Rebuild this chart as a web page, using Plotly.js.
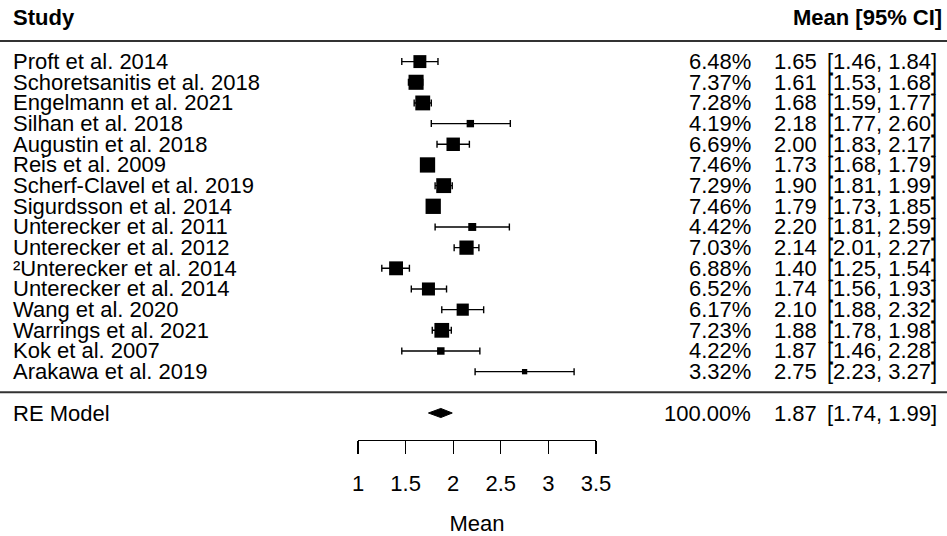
<!DOCTYPE html>
<html>
<head>
<meta charset="utf-8">
<script src="https://cdn.plot.ly/plotly-3.0.1.min.js"></script>
<style>html,body{margin:0;padding:0;background:#fff}#chart{width:947px;height:536px}</style>
</head>
<body>
<div id="chart"></div>
<script>
const studies = ["Proft et al. 2014","Schoretsanitis et al. 2018","Engelmann et al. 2021","Silhan et al. 2018","Augustin et al. 2018","Reis et al. 2009","Scherf-Clavel et al. 2019","Sigurdsson et al. 2014","Unterecker et al. 2011","Unterecker et al. 2012","\u00B2Unterecker et al. 2014","Unterecker et al. 2014","Wang et al. 2020","Warrings et al. 2021","Kok et al. 2007","Arakawa et al. 2019"];
const weights = [6.48,7.37,7.28,4.19,6.69,7.46,7.29,7.46,4.42,7.03,6.88,6.52,6.17,7.23,4.22,3.32];
const means   = [1.65,1.61,1.68,2.18,2.00,1.73,1.90,1.79,2.20,2.14,1.40,1.74,2.10,1.88,1.87,2.75];
const lower   = [1.46,1.53,1.59,1.77,1.83,1.68,1.81,1.73,1.81,2.01,1.25,1.56,1.88,1.78,1.46,2.23];
const upper   = [1.84,1.68,1.77,2.60,2.17,1.79,1.99,1.85,2.59,2.27,1.54,1.93,2.32,1.98,2.28,3.27];
const summaryLabel = "RE Model";
const summaryWeight = 100.00;
const summaryMean = 1.87;
const summaryLower = 1.74;
const summaryUpper = 1.99;
const tickVals = [1,1.5,2,2.5,3,3.5];
const tickText = ["1","1.5","2","2.5","3","3.5"];

const W = 947, H = 536;
const FONT = "Liberation Sans, Arial, sans-serif";
const FS = 22;
const k = studies.length;
const rows = studies.map((s,i)=>k - i);   // metafor style: top = k, bottom = 1
const px = v => v / W;

const wmin = Math.min(...weights), wmax = Math.max(...weights);
const sizes = weights.map(w => 5.3 + (w - wmin) / (wmax - wmin) * 10);

const traces = [
  {
    type: 'scatter', mode: 'markers', x: means, y: rows, cliponaxis: false,
    marker: {symbol: 'square', size: sizes, color: '#000', opacity: 1, line: {width: 0}},
    error_x: {type: 'data', symmetric: false,
      array: means.map((m,i)=>+(upper[i]-m).toFixed(4)),
      arrayminus: means.map((m,i)=>+(m-lower[i]).toFixed(4)),
      color: '#000', thickness: 1.4, width: 3.5},
    hoverinfo: 'skip'
  },
  {
    type: 'scatter', mode: 'lines', cliponaxis: false,
    x: [summaryLower, summaryMean, summaryUpper, summaryMean, summaryLower],
    y: [-1, -1 + 0.22, -1, -1 - 0.22, -1],
    fill: 'toself', fillcolor: '#000', line: {color: '#000', width: 1},
    hoverinfo: 'skip'
  }
];

const ann = [];
const txt = (text, xp, y, anchor, bold) => ann.push({
  text: bold ? '<b>' + text + '</b>' : text, xref: 'paper', yref: 'y', x: px(xp), y: y,
  xanchor: anchor, yanchor: 'middle', showarrow: false, borderpad: 0,
  font: {family: FONT, size: FS, color: '#000'}
});
txt('Study', 12, k + 2.15, 'left', true);
txt('Mean [95% CI]', 943, k + 2.15, 'right', true);
studies.forEach((s,i)=>{
  txt(s, 12, rows[i], 'left');
  txt(weights[i].toFixed(2) + '%', 752, rows[i], 'right');
  txt(means[i].toFixed(2), 818, rows[i], 'right');
  txt('[' + lower[i].toFixed(2) + ', ' + upper[i].toFixed(2) + ']', 938, rows[i], 'right');
});
txt(summaryLabel, 12, -1, 'left');
txt(summaryWeight.toFixed(2) + '%', 752, -1, 'right');
txt(summaryMean.toFixed(2), 818, -1, 'right');
txt('[' + summaryLower.toFixed(2) + ', ' + summaryUpper.toFixed(2) + ']', 938, -1, 'right');

const layout = {
  width: W, height: H, margin: {l: 0, r: 0, t: 0, b: 0},
  paper_bgcolor: '#fff', plot_bgcolor: 'rgba(0,0,0,0)', showlegend: false,
  font: {family: FONT, size: FS, color: '#000'},
  xaxis: {
    domain: [px(358), px(596)], range: [1, 3.5], fixedrange: true,
    tickvals: tickVals, ticktext: tickText,
    ticks: 'outside', ticklen: 13, tickwidth: 1.3, tickcolor: '#000',
    showline: true, linecolor: '#000', linewidth: 1.3,
    showgrid: false, zeroline: false,
    anchor: 'free', position: (H - 440) / H,
    ticklabelstandoff: 10,
    tickfont: {family: FONT, size: FS, color: '#000'},
    title: {text: 'Mean', font: {family: FONT, size: FS, color: '#000'}, standoff: 22}
  },
  yaxis: {range: [-6.95, 18.98], visible: false, domain: [0, 1], fixedrange: true},
  shapes: [
    {type: 'line', xref: 'paper', yref: 'y', x0: 0, x1: 1, y0: k + 1, y1: k + 1, line: {color: '#333', width: 2}},
    {type: 'line', xref: 'paper', yref: 'y', x0: 0, x1: 1, y0: 0, y1: 0, line: {color: '#333', width: 2}}
  ],
  annotations: ann
};

Plotly.newPlot('chart', traces, layout, {staticPlot: true, displayModeBar: false});
</script>
</body>
</html>
